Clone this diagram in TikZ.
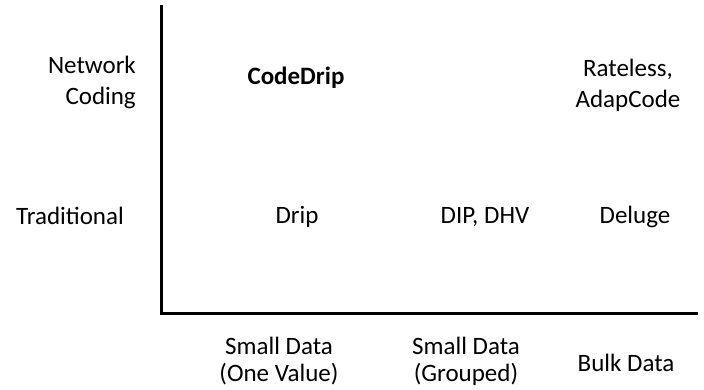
\documentclass[tikz,border=0pt]{standalone}
\usepackage{fontspec}
\setmainfont{Carlito}
\begin{document}
\begin{tikzpicture}[x=1pt,y=-1pt,
    lbl/.style={font=\fontsize{25}{31}\selectfont, align=center, inner sep=0pt},
    axlbl/.style={lbl, font=\fontsize{25}{27}\selectfont},
    axis/.style={line width=3pt}]
        \useasboundingbox (0,0) rectangle (704,389);
        \coordinate (top) at (161,5);
        \coordinate (origin) at (161,313);
        \coordinate (right) at (698,313);
        \draw[axis] (top) -- (origin) -- (right);
        \node[lbl, align=right, anchor=east] (netcod) at (136,82) {Network\\Coding};
        \node[lbl] (trad) at (70,216) {Traditional};
        \node[lbl, font=\fontsize{25}{31}\selectfont\bfseries] (codedrip) at (296,78) {CodeDrip};
        \node[lbl] (rateless) at (628,85) {Rateless,\\AdapCode};
        \node[lbl] (drip) at (297,217) {Drip};
        \node[lbl] (dipdhv) at (485,217) {DIP, DHV};
        \node[lbl] (deluge) at (635,217) {Deluge};
        \node[axlbl] (onevalue) at (279,361) {Small Data\\(One Value)};
        \node[axlbl] (grouped) at (466,361) {Small Data\\(Grouped)};
        \node[axlbl] (bulk) at (626,363) {Bulk Data};
    \end{tikzpicture}
\end{document}
